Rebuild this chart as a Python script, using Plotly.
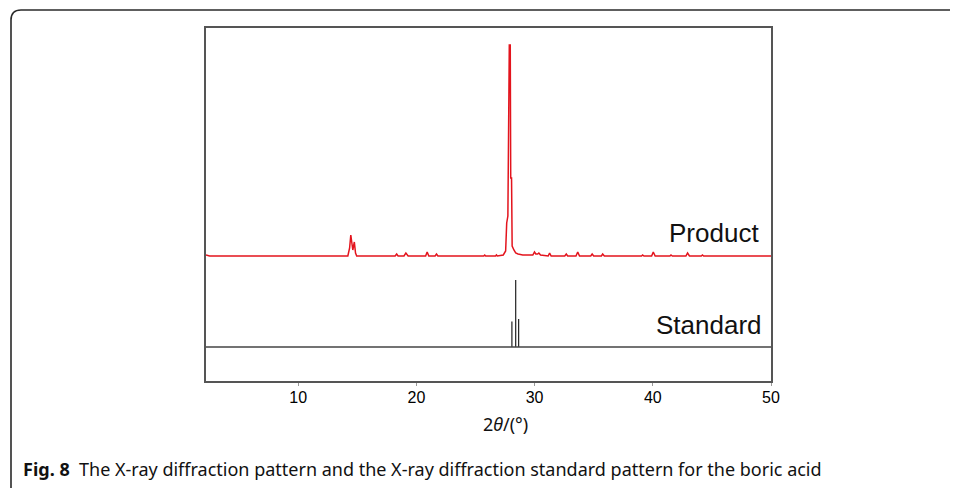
import plotly.graph_objects as go

# ---- data ----
# Product diffraction pattern: 2theta (deg) and intensity (a.u., baseline = 0)
product_x = [2.2, 2.5, 14.2, 14.35, 14.45, 14.55, 14.62, 14.75, 14.85, 14.95,
             18.2, 18.33, 18.45, 18.95, 19.11, 19.3, 20.78, 20.91, 21.05,
             21.58, 21.70, 21.82, 25.7, 25.78, 25.86, 26.7, 26.77, 26.85,
             27.35, 27.55, 27.64, 27.74, 27.80, 27.86, 27.94, 27.98, 28.05,
             28.10, 28.25, 28.4, 28.6, 29.0, 29.5,
             29.85, 29.99, 30.1, 30.25, 30.36, 30.5,
             31.15, 31.27, 31.4, 32.55, 32.68, 32.8, 33.5, 33.65, 33.8,
             34.75, 34.87, 35.0, 35.65, 35.76, 35.9, 39.05, 39.14, 39.25,
             39.9, 40.04, 40.2, 41.45, 41.54, 41.65, 42.8, 42.94, 43.1,
             44.1, 44.2, 44.3, 50.0]
product_y = [1, 0, 0, 8, 21, 10, 6, 14, 3, 0,
             0, 2, 0, 0, 3, 0, 0, 4, 0,
             0, 2, 0, 0, 1, 0, 0, 1, 0,
             1, 5, 33, 40, 211, 211, 211, 78, 78,
             10, 6, 3, 2, 1, 1,
             1, 4, 2, 2, 3, 1,
             0, 3, 0, 0, 2, 0, 0, 4, 0,
             0, 2, 0, 0, 2, 0, 0, 1, 0,
             0, 4, 0, 0, 1, 0, 0, 3, 0,
             0, 1, 0, 0]

# Standard pattern: line positions and relative heights
standard_x = [28.08, 28.40, 28.65]
standard_h = [25.6, 67, 28]

x_ticks = [10, 20, 30, 40, 50]
x_range = [2.2, 50.0]
product_offset = 91
y_range = [-34, 319]

# ---- geometry (page pixels; the page body adds an 8 px offset) ----
OFF = 8
W, H = 958 - OFF, 488 - OFF
L, R, T, B = 206, 771, 28, 381          # plot box in page pixels


def px(xp):
    return (xp - L) / (R - L)


def py(yp):
    return (B - yp) / (B - T)


fig = go.Figure()

fig.add_trace(go.Scatter(
    x=product_x, y=[v + product_offset for v in product_y],
    mode="lines", line=dict(color="#e3141d", width=1.5),
    hoverinfo="skip", showlegend=False))

sx, sy = [], []
for xv, hv in zip(standard_x, standard_h):
    sx += [xv, xv, None]
    sy += [0, hv, None]
fig.add_trace(go.Scatter(x=sx, y=sy, mode="lines",
                         line=dict(color="#222222", width=1.2),
                         hoverinfo="skip", showlegend=False))
fig.add_trace(go.Scatter(x=x_range, y=[0, 0], mode="lines",
                         line=dict(color="#444444", width=1.5),
                         hoverinfo="skip", showlegend=False))

fig.add_annotation(x=49.15, y=product_offset + 6, xref="x", yref="y",
                   text="Product", showarrow=False, xanchor="right", yanchor="bottom",
                   font=dict(family="Liberation Sans, Arial", size=26, color="#111111"))
fig.add_annotation(x=49.4, y=5, xref="x", yref="y",
                   text="Standard", showarrow=False, xanchor="right", yanchor="bottom",
                   font=dict(family="Liberation Sans, Arial", size=26, color="#111111"))

# axis title
fig.add_annotation(x=px(505), y=py(424), xref="paper", yref="paper",
                   xanchor="center", yanchor="middle",
                   text="2<i>θ</i>/(°)", showarrow=False,
                   font=dict(family="Noto Sans", size=18, color="#111111"))

# caption
fig.add_annotation(x=px(21), y=py(469), xref="paper", yref="paper",
                   xanchor="left", yanchor="middle", showarrow=False,
                   text="<b>Fig. 8</b>  The X-ray diffraction pattern and the X-ray diffraction standard pattern for the boric acid",
                   font=dict(family="Noto Sans", size=18, color="#111111"))

# outer frame (top and left edges with rounded corner)
path = (f"M {px(11)},{py(495)} L {px(11)},{py(20)} "
        f"Q {px(11)},{py(10)} {px(21)},{py(10)} L {px(965)},{py(10)}")
fig.add_shape(type="path", path=path, xref="paper", yref="paper",
              line=dict(color="#2a2a2a", width=1.6))

fig.update_layout(
    width=W, height=H,
    margin=dict(l=L - OFF, r=W - (R - OFF), t=T - OFF, b=H - (B - OFF), pad=0),
    paper_bgcolor="white", plot_bgcolor="white",
    xaxis=dict(range=x_range, tickvals=x_ticks, ticks="outside", ticklen=3,
               tickcolor="#999999", showgrid=False, zeroline=False,
               showline=True, linecolor="#555555", linewidth=1.5, mirror=True,
               ticklabelstandoff=-2,
               tickfont=dict(family="Liberation Sans, Arial", size=16, color="#000000")),
    yaxis=dict(range=y_range, showticklabels=False, ticks="", showgrid=False,
               zeroline=False, showline=True, linecolor="#555555", linewidth=1.5,
               mirror=True),
)

fig.write_html("out.html")
